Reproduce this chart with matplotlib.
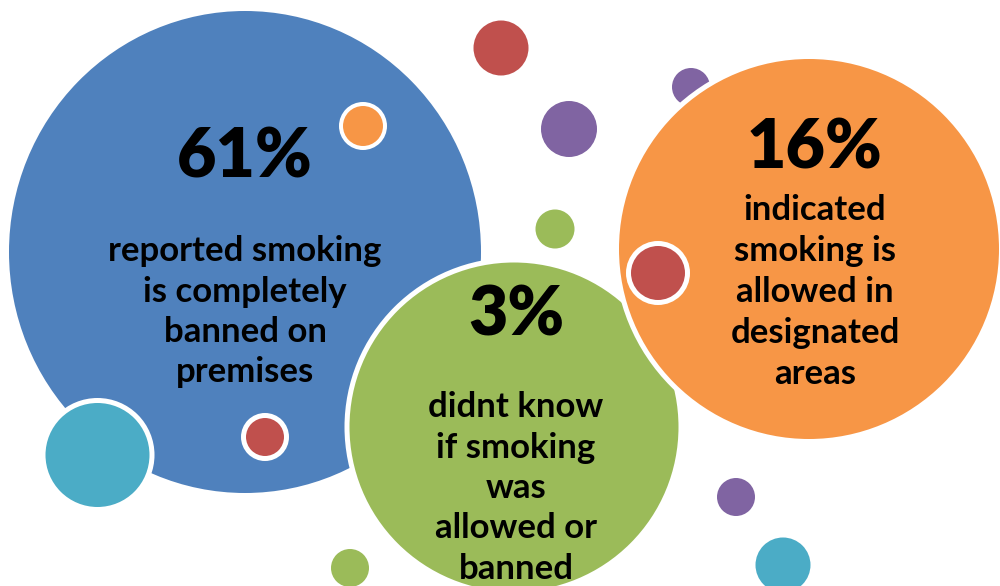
import matplotlib
matplotlib.use("Agg")
import matplotlib.pyplot as plt
from matplotlib.patches import Circle, Ellipse

# Survey results: share of respondents per answer
percentages = [61, 16, 3]
descriptions = [
    ["reported smoking", "is completely", "banned on", "premises"],
    ["indicated", "smoking is", "allowed in", "designated", "areas"],
    ["didnt know", "if smoking", "was", "allowed or", "banned"],
]

BLUE = "#4F81BD"
ORANGE = "#F79646"
GREEN = "#9BBB59"
RED = "#C0504D"
PURPLE = "#8064A2"
TEAL = "#4BACC6"

W, H = 1000, 586
fig = plt.figure(figsize=(W / 100, H / 100), dpi=100)
ax = fig.add_axes([0, 0, 1, 1])
ax.set_xlim(0, W)
ax.set_ylim(H, 0)
ax.axis("off")

PX = 0.72  # points per pixel at 100 dpi


def dot(x, y, r, color, border=0, z=2):
    ax.add_patch(Circle((x, y), r, facecolor=color,
                        edgecolor="white" if border else "none",
                        linewidth=border * PX, zorder=z))


# background bubbles
dot(691, 87, 19, PURPLE, z=1)
dot(501, 48, 27.5, RED)
dot(569, 129, 28, PURPLE)
dot(555, 229, 19.5, GREEN)
dot(350, 568, 19, GREEN)
dot(736, 497, 19, PURPLE)
dot(783, 565, 27.5, TEAL)

# main bubbles
ax.add_patch(Ellipse((245, 252), 472, 482, facecolor=BLUE, edgecolor="none", zorder=2))
dot(363, 126, 22, ORANGE, border=4, z=3)
dot(265, 437, 21.5, RED, border=5, z=3)
dot(97.5, 455, 54.5, TEAL, border=5, z=3)
dot(514, 427, 167, GREEN, border=5, z=4)
dot(809, 249, 192.5, ORANGE, border=5, z=5)
dot(658, 273, 29.5, RED, border=5, z=6)

FONT = "Lato"

# label blocks: (center x, percentage y, first line y, line step)
blocks = [
    (245, 152, 248, 40.5),
    (815, 143, 207, 41),
    (516, 310, 404, 40.5),
]

for pct, lines, (cx, py, ly, step) in zip(percentages, descriptions, blocks):
    ax.text(cx, py, f"{pct}%", ha="center", va="center_baseline",
            fontsize=49, fontweight="heavy", family=FONT, color="black", zorder=10)
    for i, line in enumerate(lines):
        ax.text(cx, ly + i * step, line, ha="center", va="center_baseline",
                fontsize=25, fontweight="bold", family=FONT, color="black", zorder=10)

fig.savefig("out.png", dpi=100)
